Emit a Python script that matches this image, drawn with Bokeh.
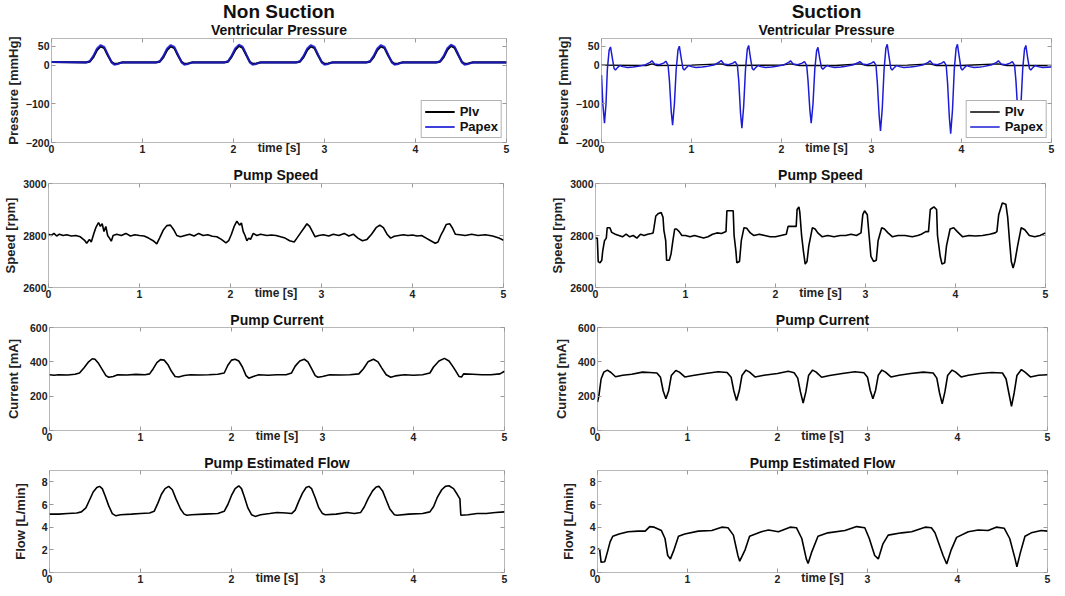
from bokeh.plotting import figure
from bokeh.layouts import row, column
from bokeh.models import LinearAxis, Title, Legend, LegendItem, FixedTicker, Range1d
from bokeh.embed import file_html
from bokeh.resources import INLINE

# ---------------- data ----------------
# Non suction: ventricular pressure
LP_T = [0.00, 0.38, 0.42, 0.46, 0.50, 0.54, 0.58, 0.62, 0.66, 0.69, 0.73, 0.78,
        1.15, 1.19, 1.23, 1.27, 1.31, 1.35, 1.39, 1.43, 1.46, 1.50, 1.55,
        1.90, 1.94, 1.98, 2.02, 2.06, 2.10, 2.14, 2.18, 2.21, 2.25, 2.30,
        2.69, 2.73, 2.77, 2.81, 2.85, 2.89, 2.93, 2.97, 3.00, 3.04, 3.09,
        3.46, 3.50, 3.54, 3.58, 3.62, 3.66, 3.70, 3.74, 3.77, 3.81, 3.86,
        4.23, 4.27, 4.31, 4.35, 4.39, 4.43, 4.47, 4.51, 4.54, 4.58, 4.63, 5.00]
PLV_NS = [9, 8, 10, 22, 40, 50, 45, 26, 9, 4, 5, 8,
          8, 10, 22, 40, 50, 45, 26, 9, 4, 5, 8,
          8, 10, 23, 41, 51, 46, 27, 9, 4, 5, 8,
          8, 10, 22, 40, 50, 45, 26, 9, 4, 5, 8,
          8, 10, 22, 40, 50, 45, 26, 9, 4, 5, 8,
          8, 10, 22, 41, 51, 46, 27, 9, 4, 5, 8, 8]
PAPEX_NS = [9, 8, 11, 25, 44, 53, 48, 28, 8, 2, 4, 8,
            8, 11, 25, 44, 53, 48, 28, 8, 2, 4, 8,
            8, 11, 26, 45, 54, 49, 29, 8, 2, 4, 8,
            8, 11, 25, 44, 53, 48, 28, 8, 2, 4, 8,
            8, 11, 25, 44, 53, 48, 28, 8, 2, 4, 8,
            8, 11, 25, 45, 54, 49, 29, 8, 2, 4, 8, 8]

# Suction: ventricular pressure
RP_T = [0.000, 0.015, 0.033, 0.050, 0.065, 0.085, 0.100, 0.120, 0.140, 0.155, 0.180, 0.205, 0.235, 0.290, 0.350,
        0.390, 0.490, 0.540, 0.560, 0.590, 0.640, 0.690, 0.715, 0.740, 0.755, 0.775, 0.790, 0.810, 0.830, 0.850, 0.865, 0.885, 0.905, 0.920, 0.945, 0.970, 1.000, 1.050, 1.120,
        1.160, 1.260, 1.310, 1.330, 1.360, 1.410, 1.460, 1.485, 1.510, 1.525, 1.545, 1.560, 1.580, 1.600, 1.620, 1.635, 1.655, 1.675, 1.690, 1.715, 1.740, 1.770, 1.820, 1.890,
        1.930, 2.030, 2.080, 2.100, 2.130, 2.180, 2.230, 2.255, 2.280, 2.295, 2.315, 2.330, 2.350, 2.370, 2.390, 2.405, 2.425, 2.445, 2.460, 2.485, 2.510, 2.540, 2.590, 2.660,
        2.700, 2.800, 2.850, 2.870, 2.900, 2.950, 3.000, 3.025, 3.050, 3.065, 3.085, 3.100, 3.120, 3.140, 3.160, 3.175, 3.195, 3.215, 3.230, 3.255, 3.280, 3.310, 3.360, 3.430,
        3.480, 3.580, 3.630, 3.650, 3.680, 3.730, 3.780, 3.805, 3.830, 3.845, 3.865, 3.880, 3.900, 3.920, 3.940, 3.955, 3.975, 3.995, 4.010, 4.035, 4.060, 4.090, 4.140, 4.210,
        4.240, 4.340, 4.390, 4.410, 4.440, 4.490, 4.540, 4.565, 4.590, 4.605, 4.625, 4.640, 4.660, 4.680, 4.700, 4.715, 4.735, 4.755, 4.770, 4.795, 4.820, 4.850, 4.900, 5.000]
PAPEX_S = [-25, -100, -150, -100, -10, 40, 48, 20, -8, -12, -5, 0, -3, -5, -4,
           -3, 2, 8, 12, 4, 2, 6, 11, 0, -40, -120, -155, -100, -10, 40, 50, 20, -8, -12, -5, 0, -3, -5, -4,
           -3, 2, 9, 13, 4, 2, 6, 10, 0, -40, -125, -163, -105, -10, 42, 52, 20, -8, -12, -5, 0, -3, -5, -4,
           -3, 2, 8, 12, 4, 2, 6, 10, 0, -40, -115, -150, -100, -10, 38, 47, 18, -6, -10, -4, 0, -3, -5, -4,
           -3, 2, 7, 10, 4, 2, 6, 10, 0, -45, -130, -170, -110, -10, 45, 55, 22, -8, -12, -5, 0, -3, -5, -4,
           -3, 2, 8, 12, 4, 2, 6, 10, 0, -45, -135, -177, -115, -10, 45, 55, 22, -8, -12, -5, 0, -3, -5, -4,
           -3, 2, 8, 12, 4, 2, 6, 10, 0, -40, -120, -160, -105, -10, 42, 52, 20, -8, -12, -5, 0, -3, -5, -4]
RPLV_T = [0.0, 0.5, 0.56, 0.62, 1.0, 1.33, 1.4, 2.0, 2.1, 2.2, 2.6, 2.87, 2.95, 3.4, 3.65, 3.72, 4.0, 4.41, 4.5, 5.0]
PLV_S = [1, 0, 4, 0, 1, 4, 0, 1, 4, 0, 0, 4, 0, 1, 4, 0, 0, 4, 0, 0]

# Pump speed
LS_T = [0.00, 0.03, 0.06, 0.09, 0.12, 0.16, 0.20, 0.25, 0.30, 0.35, 0.40, 0.42, 0.45, 0.47, 0.50, 0.52, 0.55, 0.57,
        0.59, 0.61, 0.63, 0.65, 0.67, 0.69, 0.71, 0.75, 0.80, 0.85, 0.90, 0.95, 1.00, 1.05, 1.10, 1.15, 1.19, 1.22,
        1.26, 1.30, 1.34, 1.38, 1.41, 1.45, 1.50, 1.55, 1.60, 1.65, 1.70, 1.75, 1.80, 1.85, 1.90, 1.95, 1.98, 2.01,
        2.04, 2.07, 2.10, 2.12, 2.14, 2.16, 2.18, 2.20, 2.22, 2.25, 2.29, 2.33, 2.40, 2.45, 2.50, 2.55, 2.60, 2.65,
        2.70, 2.73, 2.77, 2.81, 2.84, 2.87, 2.90, 2.93, 2.97, 3.02, 3.08, 3.13, 3.19, 3.25, 3.30, 3.35, 3.40, 3.45,
        3.50, 3.55, 3.60, 3.64, 3.68, 3.72, 3.76, 3.80, 3.85, 3.90, 3.95, 4.00, 4.05, 4.10, 4.15, 4.20, 4.25, 4.28,
        4.31, 4.34, 4.37, 4.41, 4.44, 4.47, 4.52, 4.58, 4.65, 4.72, 4.80, 4.88, 4.95, 5.00]
SPEED_NS = [2805, 2800, 2808, 2798, 2805, 2800, 2803, 2798, 2800, 2795, 2780, 2770, 2785, 2775, 2810, 2830, 2850, 2835,
            2845, 2815, 2835, 2800, 2790, 2778, 2800, 2805, 2800, 2808, 2798, 2803, 2800, 2798, 2790, 2780, 2768, 2790,
            2820, 2838, 2840, 2820, 2800, 2795, 2800, 2805, 2798, 2808, 2800, 2803, 2797, 2795, 2785, 2772, 2780, 2805,
            2835, 2855, 2840, 2848, 2815, 2800, 2780, 2790, 2785, 2808, 2800, 2805, 2800, 2802, 2800, 2795, 2790, 2780,
            2775, 2790, 2810, 2830, 2845, 2835, 2815, 2795, 2800, 2803, 2798, 2805, 2800, 2808, 2798, 2805, 2790, 2780,
            2785, 2805, 2830, 2840, 2830, 2805, 2790, 2797, 2800, 2803, 2800, 2802, 2798, 2800, 2790, 2780, 2770, 2775,
            2800, 2820, 2842, 2845, 2828, 2805, 2803, 2800, 2805, 2800, 2803, 2798, 2790, 2782]

RS_T = [0.00, 0.02, 0.03, 0.05, 0.07, 0.08, 0.10, 0.12, 0.13, 0.16, 0.18, 0.22, 0.26, 0.30, 0.34, 0.38, 0.42, 0.46,
        0.50, 0.54, 0.58, 0.62, 0.64, 0.65, 0.67, 0.70, 0.73, 0.75, 0.76, 0.78, 0.79, 0.82, 0.84, 0.86, 0.88, 0.90,
        0.93, 0.96, 1.00, 1.05, 1.10, 1.15, 1.20, 1.25, 1.30, 1.35, 1.40, 1.45, 1.46, 1.53, 1.54, 1.56, 1.57, 1.60,
        1.62, 1.65, 1.68, 1.72, 1.76, 1.82, 1.88, 1.94, 2.00, 2.06, 2.12, 2.14, 2.23, 2.24, 2.26, 2.27, 2.29, 2.31,
        2.33, 2.35, 2.37, 2.41, 2.44, 2.47, 2.52, 2.58, 2.65, 2.72, 2.78, 2.84, 2.90, 2.95, 2.97, 2.99, 3.02, 3.04,
        3.06, 3.09, 3.12, 3.14, 3.18, 3.21, 3.25, 3.30, 3.36, 3.44, 3.52, 3.58, 3.62, 3.67, 3.70, 3.72, 3.76, 3.79,
        3.80, 3.83, 3.85, 3.88, 3.90, 3.94, 3.98, 4.02, 4.08, 4.15, 4.22, 4.30, 4.38, 4.44, 4.46, 4.48, 4.52, 4.56,
        4.58, 4.60, 4.62, 4.64, 4.66, 4.69, 4.73, 4.77, 4.82, 4.88, 4.94, 5.00]
SPEED_S = [2790, 2790, 2700, 2695, 2705, 2740, 2780, 2790, 2830, 2830, 2812, 2805, 2800, 2795, 2805, 2795, 2800, 2790,
           2805, 2800, 2805, 2808, 2810, 2830, 2875, 2885, 2888, 2870, 2820, 2780, 2705, 2705, 2730, 2780, 2825, 2825,
           2815, 2800, 2800, 2795, 2800, 2795, 2790, 2795, 2805, 2810, 2808, 2815, 2895, 2895, 2800, 2740, 2695, 2700,
           2780, 2830, 2828, 2810, 2800, 2805, 2800, 2795, 2795, 2800, 2805, 2835, 2835, 2900, 2910, 2890, 2800, 2740,
           2690, 2700, 2760, 2830, 2825, 2810, 2795, 2800, 2795, 2800, 2800, 2805, 2800, 2810, 2880, 2895, 2880, 2800,
           2720, 2700, 2705, 2780, 2830, 2825, 2810, 2795, 2800, 2800, 2795, 2800, 2805, 2815, 2815, 2900, 2910, 2900,
           2800, 2720, 2690, 2695, 2760, 2825, 2830, 2815, 2795, 2800, 2798, 2800, 2805, 2810, 2815, 2880, 2925, 2920,
           2870, 2780, 2700, 2675, 2700, 2760, 2830, 2822, 2800, 2795, 2800, 2810]

# Pump current
LC_T = [0.00, 0.05, 0.10, 0.20, 0.28, 0.33, 0.38, 0.43, 0.47, 0.50, 0.54, 0.58, 0.62, 0.65, 0.70, 0.75, 0.85, 0.95,
        1.05, 1.10, 1.14, 1.18, 1.22, 1.26, 1.30, 1.34, 1.38, 1.42, 1.48, 1.55, 1.65, 1.75, 1.85, 1.92, 1.96, 2.00,
        2.04, 2.08, 2.12, 2.16, 2.19, 2.24, 2.30, 2.40, 2.50, 2.60, 2.66, 2.70, 2.75, 2.80, 2.84, 2.88, 2.92, 2.95,
        3.00, 3.08, 3.20, 3.30, 3.40, 3.45, 3.50, 3.56, 3.61, 3.65, 3.70, 3.75, 3.80, 3.90, 4.00, 4.10, 4.18, 4.22,
        4.28, 4.34, 4.39, 4.43, 4.46, 4.50, 4.53, 4.55, 4.65, 4.75, 4.85, 4.95, 5.00]
CURRENT_NS = [325, 322, 325, 323, 328, 335, 365, 400, 418, 415, 390, 355, 320, 310, 315, 325, 323, 327,
              325, 330, 360, 395, 413, 410, 385, 345, 315, 312, 320, 325, 323, 325, 328, 335, 380, 410,
              415, 405, 370, 320, 305, 315, 325, 322, 325, 325, 335, 375, 405, 415, 400, 360, 320, 310,
              315, 325, 323, 325, 330, 360, 400, 415, 400, 365, 325, 310, 318, 325, 322, 325, 335, 370,
              405, 420, 405, 375, 350, 315, 312, 330, 328, 325, 325, 330, 345]

RC_T = [0.000, 0.015, 0.040, 0.070, 0.110, 0.150, 0.200, 0.280, 0.380, 0.500, 0.580, 0.660, 0.700, 0.730, 0.760,
        0.790, 0.820, 0.870, 0.910, 0.970, 1.060, 1.200, 1.340, 1.440, 1.485, 1.515, 1.545, 1.575, 1.605, 1.650,
        1.690, 1.750, 1.850, 2.000, 2.120, 2.185, 2.225, 2.255, 2.285, 2.315, 2.345, 2.390, 2.430, 2.490, 2.580,
        2.720, 2.860, 2.960, 3.000, 3.030, 3.060, 3.090, 3.120, 3.160, 3.200, 3.260, 3.350, 3.480, 3.620, 3.730,
        3.770, 3.800, 3.830, 3.860, 3.890, 3.940, 3.980, 4.040, 4.120, 4.250, 4.380, 4.500, 4.540, 4.570, 4.600,
        4.630, 4.660, 4.710, 4.750, 4.810, 4.900, 5.000]
CURRENT_S = [165, 200, 300, 340, 352, 338, 313, 322, 328, 340, 338, 335, 310, 230, 185,
             230, 320, 350, 340, 312, 320, 332, 342, 338, 310, 230, 175, 230, 320, 352,
             340, 312, 322, 332, 345, 336, 305, 225, 160, 225, 320, 352, 340, 310, 320,
             332, 342, 336, 310, 235, 185, 235, 322, 352, 340, 312, 322, 332, 340, 335,
             305, 220, 155, 225, 320, 352, 340, 312, 322, 332, 338, 335, 300, 220, 140,
             220, 320, 355, 340, 312, 322, 325]

# Pump estimated flow
LF_T = [0.00, 0.10, 0.20, 0.30, 0.35, 0.40, 0.44, 0.48, 0.52, 0.55, 0.58, 0.61, 0.65, 0.69, 0.73, 0.78, 0.90, 1.00,
        1.10, 1.15, 1.19, 1.23, 1.27, 1.31, 1.35, 1.39, 1.44, 1.48, 1.51, 1.56, 1.70, 1.85, 1.92, 1.96, 2.00, 2.04,
        2.08, 2.11, 2.14, 2.18, 2.22, 2.26, 2.32, 2.42, 2.50, 2.60, 2.66, 2.70, 2.74, 2.78, 2.82, 2.85, 2.88, 2.92,
        2.96, 3.00, 3.03, 3.15, 3.27, 3.35, 3.42, 3.46, 3.50, 3.55, 3.59, 3.62, 3.66, 3.70, 3.74, 3.79, 3.82, 3.95,
        4.10, 4.18, 4.22, 4.26, 4.31, 4.35, 4.39, 4.44, 4.48, 4.51, 4.52, 4.60, 4.70, 4.80, 4.90, 5.00]
FLOW_NS = [5.15, 5.15, 5.2, 5.25, 5.35, 5.7, 6.4, 7.1, 7.5, 7.6, 7.4, 6.8, 5.9, 5.2, 5.0, 5.1, 5.15, 5.2,
           5.25, 5.4, 6.1, 6.9, 7.4, 7.6, 7.3, 6.5, 5.6, 5.15, 5.05, 5.1, 5.15, 5.2, 5.4, 6.0, 6.8, 7.4,
           7.65, 7.4, 6.7, 5.7, 5.1, 4.95, 5.1, 5.2, 5.3, 5.25, 5.2, 5.5, 6.3, 7.0, 7.5, 7.6, 7.4, 6.6,
           5.7, 5.2, 5.1, 5.15, 5.3, 5.2, 5.3, 5.8, 6.5, 7.2, 7.55, 7.6, 7.2, 6.4, 5.6, 5.1, 5.05, 5.15,
           5.2, 5.35, 5.8, 6.6, 7.3, 7.6, 7.65, 7.4, 6.9, 6.5, 5.05, 5.1, 5.2, 5.2, 5.3, 5.35]

RF_T = [0.000, 0.025, 0.040, 0.080, 0.110, 0.140, 0.170, 0.240, 0.340, 0.450, 0.530, 0.580, 0.630, 0.710, 0.750,
        0.780, 0.810, 0.850, 0.900, 0.970, 1.120, 1.270, 1.380, 1.450, 1.510, 1.560, 1.580, 1.640, 1.690, 1.820,
        1.900, 2.010, 2.140, 2.210, 2.270, 2.320, 2.340, 2.380, 2.450, 2.560, 2.750, 2.880, 2.970, 3.020, 3.080,
        3.120, 3.170, 3.230, 3.380, 3.490, 3.640, 3.710, 3.750, 3.840, 3.880, 3.930, 3.990, 4.120, 4.230, 4.340,
        4.430, 4.520, 4.580, 4.640, 4.660, 4.700, 4.750, 4.820, 4.930, 5.000]
FLOW_S = [2.1, 2.0, 0.9, 0.95, 1.8, 2.7, 3.2, 3.4, 3.6, 3.65, 3.65, 4.05, 4.0, 3.7, 3.0,
          1.5, 1.2, 2.0, 3.2, 3.4, 3.65, 3.7, 4.0, 3.95, 3.3, 1.5, 1.0, 2.0, 3.2, 3.6,
          3.75, 3.6, 4.0, 3.95, 3.0, 1.2, 0.8, 1.8, 3.2, 3.5, 3.7, 4.05, 3.95, 3.0, 1.5,
          1.2, 2.5, 3.3, 3.5, 3.6, 4.0, 3.95, 3.5, 1.5, 0.75, 2.0, 3.1, 3.6, 3.75, 3.7,
          4.0, 3.9, 3.0, 1.2, 0.5, 1.8, 3.2, 3.5, 3.7, 3.65]

X_TICKS = [0, 1, 2, 3, 4, 5]
P_TICKS = [-200, -100, 0, 50]
S_TICKS = [2600, 2800, 3000]
C_TICKS = [0, 200, 400, 600]
F_TICKS = [0, 2, 4, 6, 8]

# ---------------- styling ----------------
FONT = "Liberation Sans"
BLUE = "#1c1cd6"
TICK_COL = "#9a9a9a"
FRAME_COL = "#b8b8b8"
TICK_PX = 10.5
DIGIT_EM, MINUS_EM = 0.556, 0.333


def label_width(v):
    s = str(v)
    return sum(MINUS_EM if c == "-" else DIGIT_EM for c in s) * TICK_PX


def style_axis(ax, show_labels=True):
    ax.major_tick_in = 4
    ax.major_tick_out = 0
    ax.minor_tick_line_color = None
    ax.major_tick_line_color = TICK_COL
    ax.axis_line_color = None
    ax.major_label_text_font = FONT
    ax.major_label_text_font_style = "bold"
    ax.axis_label_text_font = FONT
    ax.axis_label_text_font_style = "bold"
    ax.axis_label_text_color = "#222222"
    if show_labels:
        ax.major_label_text_color = "#222222"
        ax.major_label_text_font_size = f"{TICK_PX}px"
        ax.major_label_standoff = 2
    else:
        ax.major_label_text_color = None
        ax.major_label_text_font_size = "1px"
        ax.major_label_standoff = 0


def make_fig(ylabel, yr, yticks, title, left_col, top, fh, bottom, header=None,
             title_standoff=1, label_shift=0):
    p = figure(frame_width=455 if left_col else 450, frame_height=fh,
               x_range=Range1d(0, 5), y_range=Range1d(*yr),
               output_backend="svg", toolbar_location=None,
               min_border_left=0,
               min_border_right=44 if left_col else 10,
               min_border_top=top, min_border_bottom=bottom)
    p.xgrid.visible = False
    p.ygrid.visible = False
    p.outline_line_color = FRAME_COL
    p.outline_line_width = 1
    p.background_fill_color = "white"
    p.border_fill_color = "white"

    xa = p.xaxis[0]
    xa.ticker = FixedTicker(ticks=X_TICKS)
    style_axis(xa)
    xa.axis_label = "time [s]"
    xa.axis_label_text_font_size = "12px"
    xa.axis_label_standoff = -15

    ya = p.yaxis[0]
    ya.ticker = FixedTicker(ticks=yticks)
    style_axis(ya)
    ya.axis_label = ylabel
    ya.axis_label_text_font_size = "13px"
    ya.axis_label_standoff = 2 + label_shift

    # blank spacer outside the y label (white, invisible tick), so every frame starts at the same x
    gap = int(round(4 * DIGIT_EM * TICK_PX - max(label_width(v) for v in yticks))) - label_shift
    if gap > 0:
        sp = LinearAxis(ticker=FixedTicker(ticks=[yticks[1]]), major_tick_out=gap, major_tick_in=0,
                        major_tick_line_color="white", minor_tick_line_color=None,
                        axis_line_color=None, major_label_standoff=0,
                        major_label_text_color=None, major_label_text_font_size="1px")
        p.add_layout(sp, "left")

    ra = LinearAxis(ticker=FixedTicker(ticks=yticks))
    style_axis(ra, show_labels=False)
    p.add_layout(ra, "right")
    ta = LinearAxis(ticker=FixedTicker(ticks=X_TICKS))
    style_axis(ta, show_labels=False)
    p.add_layout(ta, "above")

    p.add_layout(Title(text=title, align="center", text_font=FONT, text_font_style="bold",
                       text_font_size="14px", text_color="#111111", standoff=title_standoff), "above")
    if header:
        p.add_layout(Title(text=header, align="center", text_font=FONT, text_font_style="bold",
                           text_font_size="19px", text_color="#111111", standoff=-4), "above")
    return p


def add_legend(p, r1, r2):
    leg = Legend(items=[LegendItem(label="Plv", renderers=[r1]),
                        LegendItem(label="Papex", renderers=[r2])],
                 location="bottom_right")
    leg.label_text_font = FONT
    leg.label_text_font_style = "bold"
    leg.label_text_font_size = "13px"
    leg.label_text_color = "#111111"
    leg.glyph_width = 30
    leg.glyph_height = 13
    leg.label_height = 13
    leg.spacing = 0
    leg.padding = 3
    leg.margin = 4
    leg.border_line_color = "#666666"
    leg.background_fill_alpha = 1
    p.add_layout(leg)


# ---- left column (Non Suction) ----
l1 = make_fig("Pressure [mmHg]", (-200, 70), P_TICKS, "Ventricular Pressure", True, 32, 104, 22, header="Non Suction")
a = l1.line(LP_T, PLV_NS, line_color="black", line_width=2.2)
b = l1.line(LP_T, PAPEX_NS, line_color=BLUE, line_width=2.0, line_alpha=0.85)
add_legend(l1, a, b)

l2 = make_fig("Speed [rpm]", (2600, 3000), S_TICKS, "Pump Speed", True, 17, 104, 22)
l2.line(LS_T, SPEED_NS, line_color="black", line_width=1.6)

l3 = make_fig("Current [mA]", (0, 600), C_TICKS, "Pump Current", True, 17, 103, 22,
              title_standoff=0, label_shift=4)
l3.line(LC_T, CURRENT_NS, line_color="black", line_width=1.6)

l4 = make_fig("Flow [L/min]", (0, 9), F_TICKS, "Pump Estimated Flow", True, 16, 102, 20,
              title_standoff=0, label_shift=9)
l4.line(LF_T, FLOW_NS, line_color="black", line_width=1.6)

# ---- right column (Suction) ----
r1 = make_fig("Pressure [mmHg]", (-200, 70), P_TICKS, "Ventricular Pressure", False, 32, 104, 22, header="Suction")
a = r1.line(RPLV_T, PLV_S, line_color="black", line_width=1.4)
b = r1.line(RP_T, PAPEX_S, line_color=BLUE, line_width=1.5)
add_legend(r1, a, b)

r2 = make_fig("Speed [rpm]", (2600, 3000), S_TICKS, "Pump Speed", False, 17, 104, 22)
r2.line(RS_T, SPEED_S, line_color="black", line_width=1.6)

r3 = make_fig("Current [mA]", (0, 600), C_TICKS, "Pump Current", False, 17, 103, 22,
              title_standoff=0, label_shift=4)
r3.line(RC_T, CURRENT_S, line_color="black", line_width=1.6)

r4 = make_fig("Flow [L/min]", (0, 9), F_TICKS, "Pump Estimated Flow", False, 16, 102, 20,
              title_standoff=0, label_shift=9)
r4.line(RF_T, FLOW_S, line_color="black", line_width=1.6)

layout = column(row(l1, r1), row(l2, r2), row(l3, r3), row(l4, r4))

with open("out.html", "w") as f:
    f.write(file_html(layout, INLINE))
